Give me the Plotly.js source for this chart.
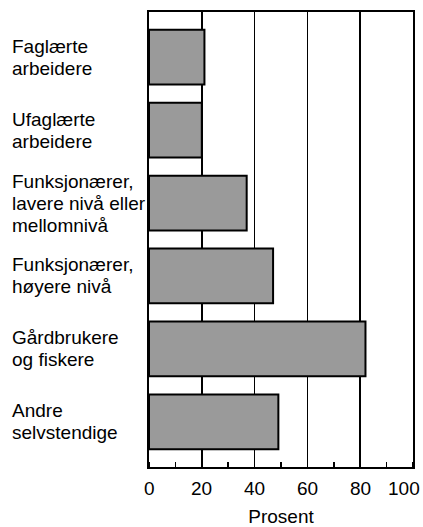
<!DOCTYPE html>
<html>
<head>
<meta charset="utf-8">
<script src="https://cdn.plot.ly/plotly-3.0.1.min.js"></script>
<style>html,body{margin:0;padding:0;background:#fff;}</style>
</head>
<body>
<div id="chart" style="width:423px;height:527px;"></div>
<script>
const categories = [
  ["Faglærte", "arbeidere"],
  ["Ufaglærte", "arbeidere"],
  ["Funksjonærer,", "lavere nivå eller", "mellomnivå"],
  ["Funksjonærer,", "høyere nivå"],
  ["Gårdbrukere", "og fiskere"],
  ["Andre", "selvstendige"]
];
const values = [21, 20, 37, 47, 82, 49];
const xTickVals = [0, 20, 40, 60, 80, 100];
const xTickText = ["0", "20", "40", "60", "80", "100"];
const xTitle = "Prosent";

const FONT = "'Liberation Sans', Arial, Helvetica, sans-serif";
const positions = categories.map((c, i) => i);

const trace = {
  type: "bar",
  orientation: "h",
  x: values,
  y: positions,
  width: 0.75,
  marker: {
    color: "#a0a0a0",
    pattern: {shape: ".", fgcolor: "#3c3c3c", bgcolor: "#e4e4e4", size: 2, solidity: 0.5, fillmode: "replace"},
    line: {color: "#000", width: 2}
  },
  hoverinfo: "none"
};

const lineH = 22;
const annotations = [];
categories.forEach((lines, i) => {
  const n = lines.length;
  lines.forEach((t, k) => {
    annotations.push({
      xref: "paper", yref: "y",
      x: -0.527, y: i,
      xanchor: "left", yanchor: "middle",
      text: t, showarrow: false,
      yshift: ((n - 1) / 2 - k) * lineH,
      font: {family: FONT, size: 19, color: "#000"}
    });
  });
});
// x tick labels placed on the x scale (last one kept inside the page edge)
xTickVals.forEach((v, i) => {
  const last = i === xTickVals.length - 1;
  annotations.push({
    xref: "x", yref: "paper",
    x: v, y: 0,
    xanchor: last ? "right" : "center", yanchor: "top",
    xshift: last ? 9 : 0, yshift: -9,
    text: xTickText[i], showarrow: false,
    font: {family: FONT, size: 19, color: "#000"}
  });
});

const layout = {
  width: 423, height: 527,
  margin: {l: 149, r: 10, t: 12, b: 60},
  paper_bgcolor: "#fff", plot_bgcolor: "#fff",
  showlegend: false,
  font: {family: FONT, size: 19, color: "#000"},
  xaxis: {
    range: [0, 100],
    tickvals: xTickVals,
    showticklabels: false,
    ticks: "",
    showgrid: true, gridcolor: "#000", gridwidth: 1.5,
    zeroline: false,
    showline: true, linecolor: "#000", linewidth: 2, mirror: true,
    minor: {dtick: 10, ticks: "inside", ticklen: 5, tickcolor: "#000", tickwidth: 1.5, showgrid: false},
    title: {text: xTitle, font: {family: FONT, size: 19, color: "#000"}, standoff: 43},
    automargin: false,
    fixedrange: true
  },
  yaxis: {
    range: [5.62, -0.62],
    showticklabels: false, ticks: "",
    showgrid: false, zeroline: false,
    showline: true, linecolor: "#000", linewidth: 2, mirror: true,
    fixedrange: true
  },
  annotations: annotations
};

Plotly.newPlot("chart", [trace], layout, {displayModeBar: false, staticPlot: true});
</script>
</body>
</html>
